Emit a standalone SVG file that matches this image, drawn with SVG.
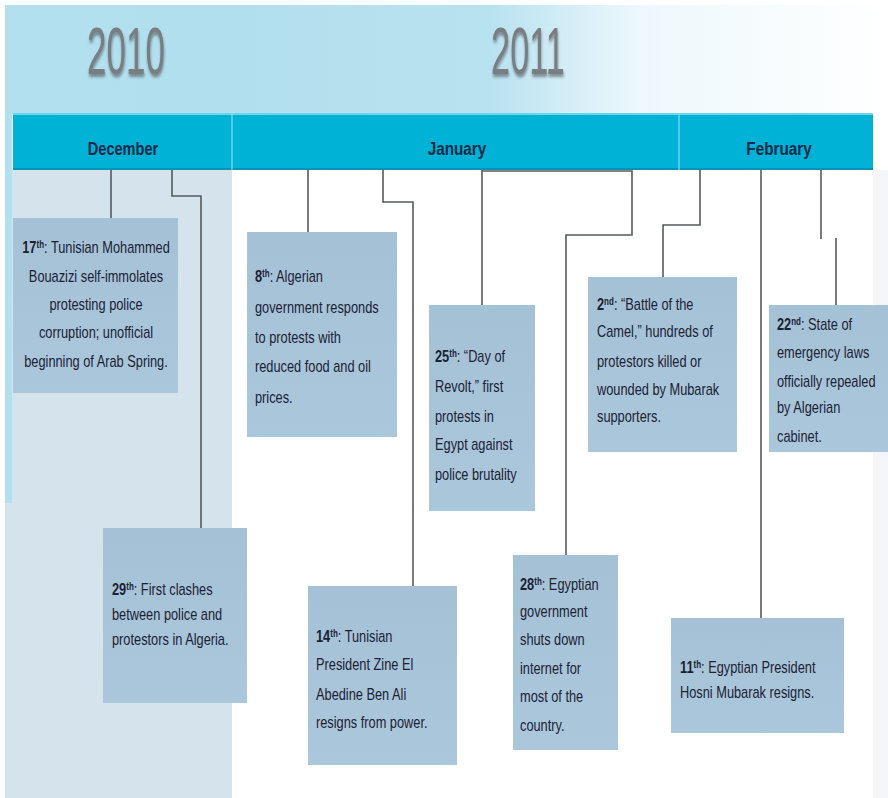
<svg xmlns="http://www.w3.org/2000/svg" width="888" height="798" viewBox="0 0 888 798">
<defs>
<linearGradient id="sky" x1="0" y1="0" x2="1" y2="0">
<stop offset="0" stop-color="#b2e0ef"/>
<stop offset="0.26" stop-color="#b2dfee"/>
<stop offset="0.55" stop-color="#b8e2f0"/>
<stop offset="0.72" stop-color="#eef8fc"/>
<stop offset="1" stop-color="#ffffff"/>
</linearGradient>
<linearGradient id="boxg" x1="0" y1="0" x2="0" y2="1">
<stop offset="0" stop-color="#a5c1d6"/>
<stop offset="1" stop-color="#abc7dc"/>
</linearGradient>
<filter id="shadow" x="-20%" y="-20%" width="140%" height="150%">
<feDropShadow dx="1" dy="3" stdDeviation="1.6" flood-color="#3d4349" flood-opacity="0.55"/>
</filter>
</defs>
<style>
.box{fill:url(#boxg);}
.t{font-family:"Liberation Sans",Arial,sans-serif;font-size:16px;fill:#1b2234;}
.c{text-anchor:middle;}
.b{font-weight:bold;}
.sup{font-size:10px;font-weight:bold;}
.conn{fill:none;stroke:#555a5e;stroke-width:1.6;}
.month{font-family:"Liberation Sans",Arial,sans-serif;font-size:18px;font-weight:bold;fill:#0e2a48;text-anchor:middle;}
.year{font-family:"Liberation Sans",Arial,sans-serif;font-size:66px;fill:#797e83;text-anchor:middle;}
</style>

<!-- background -->
<rect x="0" y="0" width="888" height="798" fill="#ffffff"/>
<rect x="5" y="5" width="883" height="110" fill="url(#sky)"/>
<rect x="5" y="170" width="227" height="628" fill="#d5e3ec"/>
<rect x="5" y="100" width="7" height="403" fill="#b3e0ef"/>
<rect x="873" y="170" width="15" height="628" fill="#f4f6f9"/>

<!-- years -->
<g id="year2010" transform="translate(126,0) scale(0.53,1)">
<text class="year" x="0" y="74" filter="url(#shadow)">2010</text>
</g>
<g id="year2011" transform="translate(528,0) scale(0.52,1)">
<text class="year" x="0" y="74" filter="url(#shadow)">2011</text>
</g>

<!-- month bar -->
<g id="monthbar">
<rect x="13" y="113" width="860" height="57" fill="#00b2d6"/>
<rect x="13" y="113" width="860" height="2" fill="#6fd3ea"/>
<rect x="13" y="168" width="860" height="2" fill="#0a93b3"/>
<line x1="232" y1="113" x2="232" y2="170" stroke="#8adcec" stroke-width="1.2"/>
<line x1="679" y1="113" x2="679" y2="170" stroke="#8adcec" stroke-width="1.2"/>
<g transform="translate(123,0) scale(0.81,1)"><text class="month" x="0" y="155">December</text></g>
<g transform="translate(457,0) scale(0.85,1)"><text class="month" x="0" y="155">January</text></g>
<g transform="translate(779,0) scale(0.85,1)"><text class="month" x="0" y="155">February</text></g>
</g>

<!-- connectors -->
<g id="connectors">
<path class="conn" d="M111,170 V218"/>
<path class="conn" d="M172,170 V196 H201 V528"/>
<path class="conn" d="M308,170 V232"/>
<path class="conn" d="M383,170 V202 H413 V586"/>
<path class="conn" d="M482,170 V305"/>
<path class="conn" d="M482,171 H632 V235 H566 V555"/>
<path class="conn" d="M700,170 V225 H663 V277"/>
<path class="conn" d="M761,170 V618"/>
<path class="conn" d="M821,170 V239 M836,238 V305"/>
</g>

<!-- nodes -->
<g id="dec17">
<rect class="box" x="13" y="218" width="165" height="175"/>
<g transform="translate(96,0) scale(0.8,1)">
<text class="t c" x="0" y="253"><tspan class="b">17</tspan><tspan class="sup" dy="-5">th</tspan><tspan dy="5">: Tunisian Mohammed</tspan></text>
<text class="t c" x="0" y="282">Bouazizi self-immolates</text>
<text class="t c" x="0" y="310">protesting police</text>
<text class="t c" x="0" y="338">corruption; unofficial</text>
<text class="t c" x="0" y="367">beginning of Arab Spring.</text>
</g>
</g>

<g id="dec29">
<rect class="box" x="103" y="528" width="144" height="175"/>
<g transform="translate(112,0) scale(0.8,1)">
<text class="t" x="0" y="595"><tspan class="b">29</tspan><tspan class="sup" dy="-5">th</tspan><tspan dy="5">: First clashes</tspan></text>
<text class="t" x="0" y="620">between police and</text>
<text class="t" x="0" y="645">protestors in Algeria.</text>
</g>
</g>

<g id="jan8">
<rect class="box" x="247" y="232" width="150" height="205"/>
<g transform="translate(255,0) scale(0.8,1)">
<text class="t" x="0" y="282"><tspan class="b">8</tspan><tspan class="sup" dy="-5">th</tspan><tspan dy="5">: Algerian</tspan></text>
<text class="t" x="0" y="313">government responds</text>
<text class="t" x="0" y="343">to protests with</text>
<text class="t" x="0" y="372">reduced food and oil</text>
<text class="t" x="0" y="403">prices.</text>
</g>
</g>

<g id="jan14">
<rect class="box" x="308" y="586" width="149" height="179"/>
<g transform="translate(316,0) scale(0.8,1)">
<text class="t" x="0" y="642"><tspan class="b">14</tspan><tspan class="sup" dy="-5">th</tspan><tspan dy="5">: Tunisian</tspan></text>
<text class="t" x="0" y="670">President Zine El</text>
<text class="t" x="0" y="700">Abedine Ben Ali</text>
<text class="t" x="0" y="728">resigns from power.</text>
</g>
</g>

<g id="jan25">
<rect class="box" x="429" y="305" width="106" height="206"/>
<g transform="translate(435,0) scale(0.8,1)">
<text class="t" x="0" y="362"><tspan class="b">25</tspan><tspan class="sup" dy="-5">th</tspan><tspan dy="5">: “Day of</tspan></text>
<text class="t" x="0" y="392">Revolt,” first</text>
<text class="t" x="0" y="422">protests in</text>
<text class="t" x="0" y="450">Egypt against</text>
<text class="t" x="0" y="480">police brutality</text>
</g>
</g>

<g id="jan28">
<rect class="box" x="513" y="555" width="105" height="195"/>
<g transform="translate(520,0) scale(0.8,1)">
<text class="t" x="0" y="590"><tspan class="b">28</tspan><tspan class="sup" dy="-5">th</tspan><tspan dy="5">: Egyptian</tspan></text>
<text class="t" x="0" y="617">government</text>
<text class="t" x="0" y="645">shuts down</text>
<text class="t" x="0" y="674">internet for</text>
<text class="t" x="0" y="702">most of the</text>
<text class="t" x="0" y="731">country.</text>
</g>
</g>

<g id="feb2">
<rect class="box" x="588" y="277" width="149" height="175"/>
<g transform="translate(597,0) scale(0.8,1)">
<text class="t" x="0" y="310"><tspan class="b">2</tspan><tspan class="sup" dy="-5">nd</tspan><tspan dy="5">: “Battle of the</tspan></text>
<text class="t" x="0" y="337">Camel,” hundreds of</text>
<text class="t" x="0" y="367">protestors killed or</text>
<text class="t" x="0" y="395">wounded by Mubarak</text>
<text class="t" x="0" y="422">supporters.</text>
</g>
</g>

<g id="feb11">
<rect class="box" x="671" y="618" width="173" height="115"/>
<g transform="translate(680,0) scale(0.8,1)">
<text class="t" x="0" y="673"><tspan class="b">11</tspan><tspan class="sup" dy="-5">th</tspan><tspan dy="5">: Egyptian President</tspan></text>
<text class="t" x="0" y="698">Hosni Mubarak resigns.</text>
</g>
</g>

<g id="feb22">
<rect class="box" x="769" y="305" width="119" height="147"/>
<g transform="translate(777,0) scale(0.8,1)">
<text class="t" x="0" y="330"><tspan class="b">22</tspan><tspan class="sup" dy="-5">nd</tspan><tspan dy="5">: State of</tspan></text>
<text class="t" x="0" y="358">emergency laws</text>
<text class="t" x="0" y="387">officially repealed</text>
<text class="t" x="0" y="413">by Algerian</text>
<text class="t" x="0" y="442">cabinet.</text>
</g>
</g>
</svg>
